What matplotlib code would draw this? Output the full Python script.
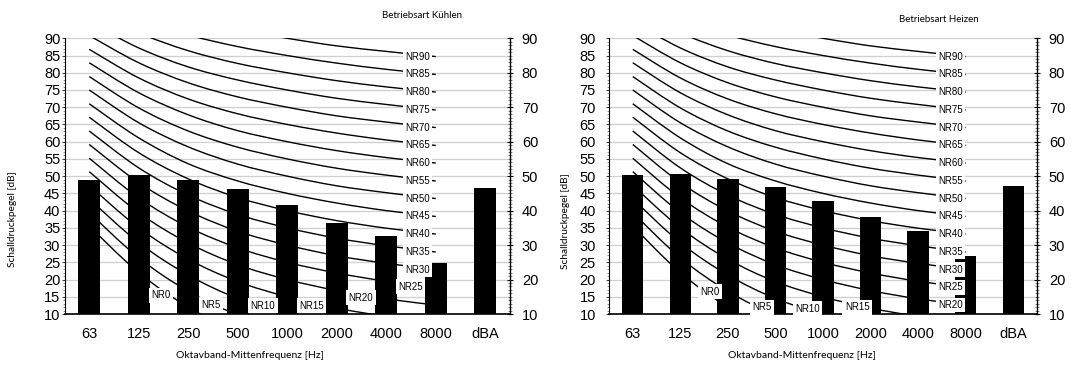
import numpy as np
import matplotlib.pyplot as plt
from matplotlib.path import Path
from matplotlib.patches import PathPatch
from matplotlib.ticker import MultipleLocator

plt.rcParams['font.family'] = ['Liberation Sans', 'DejaVu Sans']

categories = ["63", "125", "250", "500", "1000", "2000", "4000", "8000", "dBA"]
kuehlen = [49.0, 50.4, 49.0, 46.4, 41.7, 36.5, 32.7, 24.9, 46.5]
heizen = [50.3, 50.6, 49.1, 46.9, 42.9, 38.2, 34.2, 26.9, 47.2]

# NR curves, octave bands 63 .. 8000 Hz
nr_names = ["NR" + str(n) for n in range(0, 95, 5)]
nr_values = [
    [35.5, 22.0, 12.0, 4.8, 0.0, -3.5, -6.1, -8.0],
    [39.4, 26.3, 16.6, 9.7, 5.0, 1.6, -1.0, -2.8],
    [43.4, 30.7, 21.3, 14.5, 10.0, 6.6, 4.2, 2.3],
    [47.3, 35.0, 25.9, 19.4, 15.0, 11.7, 9.3, 7.4],
    [51.3, 39.4, 30.6, 24.3, 20.0, 16.8, 14.4, 12.6],
    [55.2, 43.7, 35.2, 29.2, 25.0, 21.9, 19.5, 17.7],
    [59.2, 48.1, 39.9, 34.0, 30.0, 26.9, 24.7, 22.9],
    [63.1, 52.4, 44.5, 38.9, 35.0, 32.0, 29.8, 28.0],
    [67.1, 56.8, 49.2, 43.8, 40.0, 37.1, 34.9, 33.2],
    [71.0, 61.1, 53.6, 48.6, 45.0, 42.2, 40.0, 38.3],
    [75.0, 65.5, 58.5, 53.5, 50.0, 47.2, 45.2, 43.5],
    [78.9, 69.8, 63.1, 58.4, 55.0, 52.3, 50.3, 48.6],
    [82.9, 74.2, 67.8, 63.2, 60.0, 57.4, 55.4, 53.8],
    [86.8, 78.5, 72.4, 68.1, 65.0, 62.5, 60.5, 58.9],
    [90.8, 82.9, 77.1, 73.0, 70.0, 67.5, 65.7, 64.1],
    [94.7, 87.2, 81.7, 77.9, 75.0, 72.6, 70.8, 69.2],
    [98.7, 91.6, 86.4, 82.7, 80.0, 77.7, 75.9, 74.4],
    [102.6, 95.9, 91.0, 87.6, 85.0, 82.8, 81.0, 79.5],
    [106.6, 100.3, 95.7, 92.5, 90.0, 87.8, 86.2, 84.7],
]

label_font = "Lato"
box = dict(boxstyle="square,pad=0.25", fc="white", ec="none")


def smooth_path(xs, ys):
    # Excel-like smoothed line: bezier segments through the points
    pts = np.column_stack([xs, ys]).astype(float)
    n = len(pts)
    verts = [pts[0]]
    codes = [Path.MOVETO]
    for i in range(n - 1):
        p0 = pts[max(i - 1, 0)]
        p1 = pts[i]
        p2 = pts[i + 1]
        p3 = pts[min(i + 2, n - 1)]
        verts += [p1 + (p2 - p0) / 6, p2 - (p3 - p1) / 6, p2]
        codes += [Path.CURVE4] * 3
    return Path(verts, codes)


def draw_panel(ax, values, bottom_labels, right_from, right_x, left_pad):
    x = np.arange(len(categories))
    ax.set_xlim(-0.5, 8.5)
    ax.set_ylim(10, 90)
    ax.yaxis.grid(True, color="#cfcfcf", lw=0.9)
    ax.set_axisbelow(True)

    for vals in nr_values:
        ax.add_patch(PathPatch(smooth_path(np.arange(len(vals)), vals), fc="none",
                               ec="black", lw=1.0, zorder=2))
    ax.bar(x, values, width=0.45, color="black", zorder=3)

    # labels placed by hand near the bottom
    for name, (lx, ly) in bottom_labels.items():
        ax.text(lx, ly, name, fontsize=7, ha="center", va="center", bbox=box, zorder=5)
    # labels at the end of the curves
    for name, vals in zip(nr_names, nr_values):
        if int(name[2:]) >= right_from:
            ax.text(right_x, vals[-1], name, fontsize=7, ha="right", va="center",
                    bbox=box, zorder=5, clip_on=False)

    ax.set_xticks(x)
    ax.set_xticklabels(categories, fontsize=10.5)
    ax.tick_params(axis="x", length=0, pad=9)
    ax.yaxis.set_major_locator(MultipleLocator(5))
    ax.yaxis.set_minor_locator(MultipleLocator(1))
    ax.tick_params(axis="y", which="major", labelsize=10.5, length=2, pad=left_pad, color="#404040")
    ax.tick_params(axis="y", which="minor", length=1.5, color="#808080")
    for s in ["top", "right"]:
        ax.spines[s].set_visible(False)
    ax.spines["left"].set_linewidth(0.8)
    ax.spines["bottom"].set_linewidth(1.2)

    tw = ax.twinx()
    tw.set_ylim(10, 90)
    tw.yaxis.set_major_locator(MultipleLocator(10))
    tw.yaxis.set_minor_locator(MultipleLocator(1))
    tw.tick_params(axis="y", which="major", direction="inout", length=5, labelsize=10.5, pad=6)
    tw.tick_params(axis="y", which="minor", direction="inout", length=3, color="#707070")
    for s in ["top", "left", "bottom"]:
        tw.spines[s].set_visible(False)
    tw.spines["right"].set_linewidth(1.0)


fig = plt.figure(figsize=(10.72, 3.65), dpi=100)
ax1 = fig.add_axes([64.5 / 1072, 51 / 365, 445.5 / 1072, 275.7 / 365])
ax2 = fig.add_axes([609 / 1072, 51 / 365, 428 / 1072, 275.7 / 365])

draw_panel(ax1, kuehlen,
           {"NR0": (1.45, 15.4), "NR5": (2.46, 12.7), "NR10": (3.51, 12.4),
            "NR15": (4.49, 12.4), "NR20": (5.49, 14.7), "NR25": (6.49, 17.9)},
           30, 6.88, 1.0)
draw_panel(ax2, heizen,
           {"NR0": (1.63, 16.5), "NR5": (2.71, 12.0), "NR10": (3.67, 11.5),
            "NR15": (4.72, 12.0)},
           20, 6.94, 7.5)

fig.text(422 / 1072, 1 - 15.5 / 365, "Betriebsart Kühlen", family=label_font, fontsize=7, ha="center", va="center")
fig.text(939 / 1072, 1 - 20 / 365, "Betriebsart Heizen", family=label_font, fontsize=7, ha="center", va="center")
fig.text(250 / 1072, 1 - 356 / 365, "Oktavband-Mittenfrequenz [Hz]", family=label_font, fontsize=7.5, ha="center", va="center")
fig.text(802 / 1072, 1 - 356 / 365, "Oktavband-Mittenfrequenz [Hz]", family=label_font, fontsize=7.5, ha="center", va="center")
fig.text(13 / 1072, 1 - 219 / 365, "Schalldruckpegel [dB]", family=label_font, fontsize=7.3, rotation=90, ha="center", va="center")
fig.text(565 / 1072, 1 - 221 / 365, "Schalldruckpegel [dB]", family=label_font, fontsize=7.3, rotation=90, ha="center", va="center")

fig.savefig("out.png", dpi=100)
